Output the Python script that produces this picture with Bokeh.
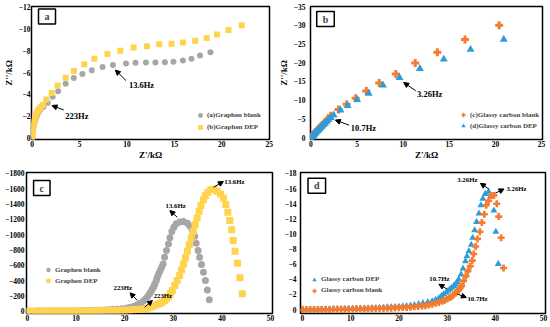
from bokeh.plotting import figure
from bokeh.models import Range1d, FixedTicker, Label, Arrow, NormalHead, Legend, LegendItem
from bokeh.layouts import row, column
from bokeh.embed import file_html
from bokeh.resources import INLINE

FONT = "Liberation Serif"
GRAY = "#A6A6A6"
YELLOW = "#FFD34E"
ORANGE = "#F47C2C"
BLUE = "#2F9CDA"

# ---------------- panel a : Nyquist, graphene ----------------
a_blank_x = [0.0, 0.02, 0.04, 0.07, 0.10, 0.14, 0.19, 0.25, 0.32, 0.40, 0.49, 0.59, 0.70, 0.82, 0.96,
             1.20, 1.65, 2.16, 2.74, 3.53, 4.39, 5.30, 6.29, 7.42, 8.52, 9.90, 10.9, 12.0, 13.0, 14.0,
             14.9, 15.9, 16.8, 17.7, 18.8]
a_blank_y = [0.0, -0.2, -0.4, -0.6, -0.8, -1.0, -1.2, -1.4, -1.6, -1.8, -2.0, -2.2, -2.4, -2.55, -2.7,
             -2.85, -3.22, -3.76, -4.27, -4.96, -5.5, -5.86, -6.2, -6.5, -6.7, -6.82, -6.9, -6.92, -6.92, -6.95,
             -7.0, -7.1, -7.28, -7.58, -7.88]
a_dep_x = [0.0, 0.02, 0.04, 0.06, 0.09, 0.12, 0.16, 0.20, 0.25, 0.31, 0.38, 0.46, 0.55, 0.65, 0.76,
           0.90, 1.13, 1.48, 2.06, 2.68, 3.54, 4.40, 5.50, 6.56, 7.94, 9.30, 10.7, 12.1, 13.4, 14.7,
           15.9, 17.2, 18.4, 19.5, 20.7, 22.1]
a_dep_y = [0.0, -0.2, -0.4, -0.6, -0.8, -1.0, -1.2, -1.4, -1.6, -1.8, -2.0, -2.2, -2.4, -2.5, -2.65,
           -2.8, -3.0, -3.5, -4.11, -4.8, -5.52, -6.15, -6.76, -7.27, -7.7, -8.0, -8.3, -8.42, -8.6, -8.66,
           -8.78, -8.93, -9.18, -9.5, -9.93, -10.35]
a_xticks = [0, 5, 10, 15, 20, 25]
a_yticks = [0, -2, -4, -6, -8, -10, -12]

# ---------------- panel b : Nyquist, glassy carbon ----------------
b_blank_x = [0.0, 0.05, 0.10, 0.16, 0.23, 0.30, 0.38, 0.47, 0.57, 0.68, 0.80, 0.93, 1.07, 1.22, 1.38,
             1.55, 1.74, 1.95, 2.14, 3.0, 3.87, 4.85, 6.0, 7.4, 9.2, 11.3, 13.7, 16.7, 20.4]
b_blank_y = [0.0, -0.14, -0.27, -0.43, -0.62, -0.81, -1.03, -1.27, -1.54, -1.84, -2.16, -2.5, -2.87, -3.26, -3.68,
             -4.12, -4.6, -5.1, -5.8, -7.5, -8.9, -10.5, -12.4, -14.6, -17.0, -19.9, -22.8, -26.2, -30.0]
b_dep_x = [0.0, 0.04, 0.09, 0.14, 0.20, 0.27, 0.35, 0.44, 0.54, 0.65, 0.77, 0.90, 1.04, 1.19, 1.35,
           1.52, 1.70, 1.90, 2.15, 2.46, 3.2, 3.97, 5.0, 6.26, 7.8, 9.6, 11.8, 14.4, 17.3, 20.9]
b_dep_y = [0.0, -0.11, -0.24, -0.38, -0.54, -0.72, -0.93, -1.16, -1.42, -1.7, -2.0, -2.33, -2.68, -3.05, -3.44,
           -3.85, -4.28, -4.75, -5.3, -6.0, -7.3, -8.5, -10.1, -11.8, -14.0, -16.0, -18.4, -20.9, -23.5, -26.2]
b_xticks = [0, 5, 10, 15, 20, 25]
b_yticks = [0, -5, -10, -15, -20, -25, -30, -35]

# ---------------- panel c : graphene, vs Z' ----------------
c_blank_x = [0, 0.8, 1.6, 2.4, 3.2, 4.0, 4.8, 5.6, 6.4, 7.2, 8.0, 8.8, 9.6, 10.4, 11.2,
             12.0, 12.8, 13.6, 14.4, 15.2, 16.0, 16.8, 17.6, 18.5, 19.5, 20.5, 21.2, 21.9, 22.6, 23.3,
             23.8, 24.3, 24.7, 25.1, 25.4, 25.7, 26.0, 26.2, 26.5, 26.7, 27.0, 27.3, 27.6, 27.9, 28.2,
             28.6, 29.0, 29.3, 29.7, 30.1, 30.6, 31.3, 32.05, 32.9, 33.4, 33.9, 34.4, 34.7, 35.1, 35.4,
             35.8, 36.2, 36.6, 37.0, 37.4]
c_blank_y = [0, 0, 0, -1, -1, -1, -2, -2, -2, -3, -3, -4, -4, -5, -6,
             -7, -8, -9, -11, -13, -15, -18, -21, -26, -33, -43, -53, -65, -83, -104,
             -130, -161, -192, -226, -258, -291, -322, -357, -400, -443, -487, -530, -574, -617, -704,
             -791, -878, -957, -1039, -1096, -1139, -1165, -1170, -1148, -1109, -1052, -978, -887, -791, -704,
             -609, -509, -400, -278, -148]
c_dep_x = [0, 0.8, 1.6, 2.4, 3.2, 4.0, 4.8, 5.6, 6.4, 7.2, 8.0, 8.8, 9.6, 10.4, 11.2,
           12.0, 12.8, 13.6, 14.4, 15.2, 16.0, 16.8, 17.6, 18.4, 19.2, 20.0, 20.8, 21.6, 22.4, 23.2,
           24.0, 24.7, 25.3, 26.0, 26.7, 27.2, 27.7, 28.2, 28.6, 29.0, 29.4, 29.8, 30.3, 30.8, 31.3,
           31.7, 32.1, 32.5, 32.9, 33.3, 33.7, 34.1, 34.5, 34.9, 35.3, 35.7, 36.2, 36.6, 37.1, 37.7,
           38.4, 39.0, 39.7, 40.3, 40.8, 41.2, 41.6, 42.0, 42.3, 42.7, 43.2, 43.7, 44.2]
c_dep_y = [0, 0, 0, 0, 0, -1, -1, -1, -1, -2, -2, -2, -3, -3, -3,
           -4, -4, -5, -6, -7, -7, -8, -9, -10, -12, -13, -15, -18, -21, -25,
           -30, -40, -52, -68, -87, -100, -117, -138, -161, -190, -230, -270, -335, -400, -465,
           -539, -617, -696, -783, -870, -957, -1043, -1130, -1217, -1304, -1378, -1452, -1509, -1552, -1583,
           -1590, -1565, -1530, -1478, -1391, -1291, -1183, -1061, -922, -783, -626, -435, -226]
c_xticks = [0, 10, 20, 30, 40, 50]
c_yticks = [0, -200, -400, -600, -800, -1000, -1200, -1400, -1600, -1800]

# ---------------- panel d : glassy carbon, vs Z' ----------------
d_dep_x = [0, 0.8, 1.6, 2.4, 3.2, 4.0, 4.8, 5.6, 6.4, 7.2, 8.0, 8.8, 9.6, 10.4, 11.2,
           12.0, 12.8, 13.6, 14.4, 15.2, 16.0, 16.8, 17.6, 18.4, 19.2, 20.0, 20.8, 21.6, 22.4, 23.2,
           24.1, 25.0, 26.0, 26.9, 27.6, 28.3, 28.8, 29.3, 29.8, 30.2, 30.6, 31.0, 31.4, 31.7, 32.1,
           32.4, 32.9, 33.3, 33.8, 34.1, 34.5, 35.0, 35.3, 35.7, 36.1, 36.6, 37.0, 37.4, 37.9, 38.6,
           39.1, 39.7, 40.1, 40.6]
d_dep_y = [0, 0, 0, -0.01, -0.02, -0.03, -0.04, -0.05, -0.06, -0.07, -0.08, -0.09, -0.1, -0.11, -0.12,
           -0.14, -0.15, -0.17, -0.19, -0.21, -0.23, -0.26, -0.29, -0.32, -0.35, -0.38, -0.42, -0.46, -0.52, -0.6,
           -0.74, -0.85, -0.98, -1.09, -1.3, -1.52, -1.78, -2.04, -2.26, -2.48, -2.7, -2.91, -3.13, -3.35, -3.65,
           -4.0, -4.65, -5.43, -6.39, -7.04, -7.7, -8.57, -9.5, -10.5, -11.6, -12.7, -13.8, -14.65, -15.3, -15.6,
           -15.0, -13.1, -10.3, -6.04]
d_blank_x = [0, 0.8, 1.6, 2.4, 3.2, 4.0, 4.8, 5.6, 6.4, 7.2, 8.0, 8.8, 9.6, 10.4, 11.2,
             12.0, 12.8, 13.6, 14.4, 15.2, 16.0, 16.8, 17.6, 18.4, 19.2, 20.0, 20.8, 21.6, 22.4, 23.2,
             24.0, 24.8, 25.5, 26.2, 26.9, 27.6, 28.3, 29.0, 29.5, 30.0, 30.5, 30.9, 31.3, 31.7, 32.1,
             32.4, 32.7, 33.0, 33.4, 33.9, 34.3, 34.8, 35.2, 35.5, 35.9, 36.3, 36.8, 37.2, 37.7, 38.1,
             38.6, 39.2, 39.7, 40.3, 40.7, 41.2, 41.7]
d_blank_y = [0, 0, 0, 0, -0.01, -0.01, -0.02, -0.02, -0.03, -0.03, -0.04, -0.05, -0.05, -0.06, -0.07,
             -0.08, -0.09, -0.1, -0.11, -0.12, -0.14, -0.15, -0.17, -0.19, -0.21, -0.23, -0.26, -0.29, -0.32, -0.36,
             -0.4, -0.46, -0.52, -0.6, -0.7, -0.83, -0.95, -1.09, -1.22, -1.39, -1.55, -1.7, -1.93, -2.17, -2.4,
             -2.6, -2.85, -3.13, -3.78, -4.43, -5.09, -5.74, -6.48, -7.35, -8.35, -9.35, -10.3, -11.5, -12.6, -13.8,
             -14.4, -15.1, -15.1, -14.0, -12.3, -9.5, -5.5]
d_xticks = [0, 10, 20, 30, 40, 50]
d_yticks = [0, -2, -4, -6, -8, -10, -12, -14, -16, -18]


def make_fig(w, h, bl, br, bt, bb, xr, yr, xt, yt, ystand, xlabel=None, ylabel=None):
    p = figure(width=w, height=h, output_backend="svg", toolbar_location=None,
               x_range=Range1d(*xr), y_range=Range1d(*yr),
               min_border_left=bl, min_border_right=br, min_border_top=bt, min_border_bottom=bb)
    p.xgrid.visible = False
    p.ygrid.visible = False
    p.outline_line_color = "black"
    p.outline_line_width = 1.5
    p.outline_line_alpha = 1.0
    for ax, t in ((p.xaxis, xt), (p.yaxis, yt)):
        ax.ticker = FixedTicker(ticks=t)
        ax.axis_line_color = None
        ax.major_tick_line_color = None
        ax.minor_tick_line_color = None
        ax.major_tick_out = 0
        ax.major_tick_in = 0
        ax.minor_tick_out = 0
        ax.minor_tick_in = 0
        ax.major_label_text_font = FONT
        ax.major_label_text_font_style = "bold"
        ax.major_label_text_font_size = "7.5px"
        ax.major_label_text_color = "black"
        ax.axis_label_text_font = FONT
        ax.axis_label_text_font_style = "bold"
        ax.axis_label_text_font_size = "9px"
        ax.axis_label_text_color = "black"
    p.xaxis.major_label_standoff = 1
    p.yaxis.major_label_standoff = ystand
    if xlabel:
        p.xaxis.axis_label = xlabel
        p.xaxis.axis_label_standoff = 0
    if ylabel:
        p.yaxis.axis_label = ylabel
        p.yaxis.axis_label_standoff = 2
    return p


def txt(p, x, y, s, size):
    p.add_layout(Label(x=x, y=y, text=s, text_font=FONT, text_font_style="bold",
                       text_font_size=size, text_align="left", text_baseline="middle",
                       text_color="black"))


def arrow(p, xs, ys, xe, ye):
    p.add_layout(Arrow(end=NormalHead(size=5, line_color="black", fill_color="black", line_width=1),
                       x_start=xs, y_start=ys, x_end=xe, y_end=ye,
                       line_color="black", line_width=1))


def panel_tag(p, x, y, s):
    p.add_layout(Label(x=x, y=y, x_units="screen", y_units="screen", text=s, text_font=FONT,
                       text_font_style="bold", text_font_size="10px", text_align="center",
                       text_baseline="middle", background_fill_color="white",
                       border_line_color="black", border_line_width=1.5,
                       padding=dict(left=6, right=6, top=2, bottom=2)))


def legend(p, items, loc, gh):
    lg = Legend(items=items, location=loc, orientation="vertical",
                label_text_font=FONT, label_text_font_style="bold", label_text_font_size="7px",
                glyph_width=12, glyph_height=gh, label_height=gh, spacing=0, padding=0, margin=0,
                label_standoff=1, border_line_alpha=0, background_fill_alpha=0)
    p.add_layout(lg)


# ---- a ----
pa = make_fig(275, 162, 25, 6, 6, 20, (-0.07, 25.03), (0.18, -12.09), a_xticks, a_yticks, 1,
              xlabel="Z'/kΩ", ylabel="Z''/kΩ")
ra1 = pa.scatter(a_blank_x, a_blank_y, marker="circle", size=6, fill_color=GRAY, line_color=None)
ra2 = pa.scatter(a_dep_x, a_dep_y, marker="square", size=6, fill_color=YELLOW, line_color=None)
legend(pa, [LegendItem(label="(a)Graphen blank", renderers=[ra1]),
            LegendItem(label="(b)Graphen DEP", renderers=[ra2])], (163, 6), 12)
arrow(pa, 9.89, -5.26, 8.78, -6.23)
txt(pa, 10.2, -4.87, "13.6Hz", "8.5px")
arrow(pa, 3.33, -2.55, 2.09, -2.95)
txt(pa, 3.5, -1.99, "223Hz", "8.5px")
panel_tag(pa, 15.5, 123, "a")

# ---- b ----
pb = make_fig(275, 162, 29, 8, 5, 20, (-0.05, 25.1), (0.52, -35), b_xticks, b_yticks, 5,
              xlabel="Z'/kΩ", ylabel="Z''/kΩ")
rb1 = pb.scatter(b_blank_x, b_blank_y, marker="plus", size=8, fill_color=ORANGE, line_color=None)
rb2 = pb.scatter(b_dep_x, b_dep_y, marker="triangle", size=8, fill_color=BLUE, line_color=None)
legend(pb, [LegendItem(label="(c)Glassy carbon blank", renderers=[rb1]),
            LegendItem(label="(d)Glassy carbon DEP", renderers=[rb2])], (147, 8), 11)
arrow(pb, 11.36, -12.5, 10.05, -14.7)
txt(pb, 11.5, -11.67, "3.26Hz", "8.5px")
arrow(pb, 4.15, -3.3, 2.64, -4.67)
txt(pb, 4.32, -2.6, "10.7Hz", "8.5px")
panel_tag(pb, 15, 120.5, "b")

# ---- c ----
pc = make_fig(275, 165, 26, 3, 10, 14, (-0.2, 50.4), (30, -1809), c_xticks, c_yticks, 2)
rc1 = pc.scatter(c_blank_x, c_blank_y, marker="circle", size=7, fill_color=GRAY, line_color=None)
rc2 = pc.scatter(c_dep_x, c_dep_y, marker="square", size=7, fill_color=YELLOW, line_color=None)
legend(pc, [LegendItem(label="Graphen blank", renderers=[rc1]),
            LegendItem(label="Graphen DEP", renderers=[rc2])], (16, 27), 11)
arrow(pc, 38.3, -1617, 40.3, -1692)
txt(pc, 40.5, -1696, "13.6Hz", "6.8px")
arrow(pc, 30.8, -1226, 29.3, -1313)
txt(pc, 28.4, -1379, "13.6Hz", "6.8px")
arrow(pc, 22.6, -140, 21.1, -240)
txt(pc, 17.7, -313, "223Hz", "6.8px")
arrow(pc, 24.1, -52, 25.7, -140)
txt(pc, 25.95, -205, "223Hz", "6.8px")
panel_tag(pc, 15.3, 125.5, "c")

# ---- d ----
pd_ = make_fig(275, 165, 25, 5, 8, 14, (-0.41, 50.4), (0.52, -18.13), d_xticks, d_yticks, 4)
rd1 = pd_.scatter(d_dep_x, d_dep_y, marker="triangle", size=7, fill_color=BLUE, line_color=None)
rd2 = pd_.scatter(d_blank_x, d_blank_y, marker="plus", size=7, fill_color=ORANGE, line_color=None)
legend(pd_, [LegendItem(label="Glassy carbon DEP", renderers=[rd1]),
             LegendItem(label="Glassy carbon blank", renderers=[rd2])], (8, 17.5), 11)
arrow(pd_, 38.65, -15.95, 36.9, -16.7)
txt(pd_, 32.1, -17.25, "3.26Hz", "6.8px")
arrow(pd_, 40.0, -15.4, 41.8, -15.95)
txt(pd_, 42.3, -16.0, "3.26Hz", "6.8px")
arrow(pd_, 30.0, -2.7, 28.3, -3.35)
txt(pd_, 26.3, -4.13, "10.7Hz", "6.8px")
arrow(pd_, 32.1, -2.05, 34.0, -1.6)
txt(pd_, 34.2, -1.53, "10.7Hz", "6.8px")
panel_tag(pd_, 16.3, 127.7, "d")

layout = column(row(pa, pb), row(pc, pd_))

open("out.html", "w").write(file_html(layout, INLINE))
